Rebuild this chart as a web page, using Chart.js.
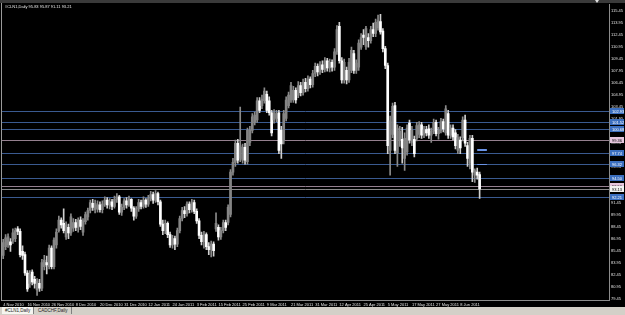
<!DOCTYPE html>
<html><head><meta charset="utf-8">
<script src="https://cdn.jsdelivr.net/npm/chart.js@4.4.1/dist/chart.umd.min.js"></script>
<style>
html,body{margin:0;padding:0;background:#000;overflow:hidden}
#wrap{position:relative;width:625px;height:315px;background:#000}
#top{position:absolute;left:0;top:0;width:625px;height:3px;background:#3a3a3a}
#tri{position:absolute;left:595px;top:0;width:0;height:0;border-left:2px solid transparent;border-right:2px solid transparent;border-top:3px solid #e0e0e0}
#frame{position:absolute;left:1px;top:3px;width:1px;height:298px;background:#9a9a9a}
#c{position:absolute;left:0;top:0}
#title{position:absolute;left:5px;top:4px;font:4px "Liberation Sans Narrow","Liberation Sans",sans-serif;color:#e8e8e8;white-space:nowrap}
#tabs{position:absolute;left:0;top:307px;width:625px;height:8px;background:#d4d0c8;font:4.5px "Liberation Sans Narrow","Liberation Sans",sans-serif;color:#222}
.tab{position:absolute;top:0;height:7px;line-height:7px;padding:0 3px;white-space:nowrap}
#t1{left:2px;background:#f6f5f0;border-right:1px solid #808080}
#t2{left:35px;border-right:1px solid #808080}
</style></head><body>
<div id="wrap">
<canvas id="c" width="625" height="307"></canvas>
<div id="top"></div><div id="tri"></div><div id="frame"></div>
<div id="title">#CLN1,Daily 95.83 95.87 91.11 93.21</div>
<div id="tabs"><div class="tab" id="t1">#CLN1,Daily</div><div class="tab" id="t2">CADCHF,Daily</div></div>
</div>
<script>
const opens = [
84.9,86.0,86.2,86.6,86.8,87.0,88.2,87.9,85.4,85.0,
82.7,81.4,82.8,81.9,80.6,81.4,80.8,83.5,84.0,83.5,
85.8,83.5,86.2,88.0,89.3,88.9,87.2,88.4,87.7,88.3,
89.0,88.4,89.3,87.8,89.1,89.7,90.5,91.4,90.6,90.7,
91.2,90.6,91.3,91.8,91.2,91.6,91.0,91.9,92.2,90.3,
90.9,91.7,91.2,91.9,90.8,89.8,90.7,91.5,91.0,91.8,
91.3,92.0,92.5,91.8,92.6,91.6,88.8,88.0,88.9,87.5,
86.2,87.0,86.3,88.0,89.5,90.5,90.1,91.3,90.6,91.5,
90.4,89.2,87.4,86.6,87.5,86.0,85.6,86.3,88.2,88.4,
87.2,88.0,89.0,89.0,90.0,95.3,96.5,98.9,97.0,96.8,
98.4,96.6,99.0,100.5,101.5,101.8,104.2,103.6,104.2,105.0,
104.2,102.7,101.8,102.0,102.7,100.5,99.2,102.0,103.6,104.3,
104.3,105.5,104.9,106.1,105.2,106.5,105.7,106.9,106.2,107.6,
108.5,107.8,108.7,108.1,109.2,108.3,109.0,108.4,110.3,113.5,
109.2,106.8,108.0,106.8,108.0,110.1,108.0,108.4,110.9,112.4,
111.0,112.1,111.7,113.1,112.6,113.3,114.1,112.9,110.7,108.6,
98.0,100.0,103.6,97.7,99.3,99.4,97.0,97.8,101.4,99.0,
99.4,99.5,100.0,101.2,100.0,100.6,100.7,99.9,100.4,101.5,
100.1,100.5,101.6,100.2,102.6,99.9,100.8,100.2,98.0,99.3,
99.6,101.8,98.6,96.4,99.5,94.9,95.3,95.0];
const highs = [
86.9,87.5,87.6,87.0,88.2,88.3,88.5,88.2,86.1,85.3,
83.0,83.0,83.1,82.3,82.0,81.9,84.4,84.9,84.8,86.2,
86.1,87.1,88.2,89.8,89.6,90.7,89.1,88.8,90.1,89.5,
89.4,89.6,89.7,89.5,90.3,90.8,91.8,91.9,91.8,91.7,
91.6,91.7,92.2,92.1,92.0,91.9,92.3,92.6,92.4,91.3,
92.0,92.1,92.3,92.0,91.0,91.0,91.9,91.8,92.2,92.0,
92.4,92.9,92.8,93.0,92.8,91.8,89.3,89.3,89.1,87.8,
87.4,87.3,88.3,89.8,90.9,91.0,91.6,91.6,91.9,91.8,
90.7,89.5,87.8,87.9,87.7,86.5,86.7,86.6,90.2,88.7,
88.4,89.3,89.3,91.2,95.6,97.0,99.3,99.4,103.4,98.8,
98.9,100.8,101.0,102.6,102.8,104.6,104.6,104.9,105.8,105.4,
104.7,103.0,103.1,103.0,103.0,101.0,103.0,104.7,105.3,106.5,
106.0,105.8,106.6,106.5,106.9,107.0,107.3,107.2,108.0,108.9,
108.8,109.1,109.2,109.6,109.5,109.4,109.3,110.7,113.6,114.0,
109.6,109.4,108.4,109.5,110.9,110.5,109.3,111.8,112.6,113.1,
113.5,112.6,113.5,113.9,114.4,114.9,115.0,113.2,111.0,108.9,
102.3,103.9,104.0,101.2,101.0,100.9,100.2,101.2,101.8,101.0,
99.8,101.5,101.6,101.5,101.0,101.0,101.2,100.8,101.9,101.8,
100.9,102.0,101.9,103.6,103.0,101.2,101.2,100.6,100.0,99.7,
102.2,102.4,99.0,99.9,99.9,95.7,95.8,95.3];
const lows = [
84.5,85.6,85.9,85.4,86.4,86.6,87.5,84.7,84.4,82.4,
80.4,80.9,81.2,80.8,79.9,80.4,80.5,83.1,82.6,83.2,
83.2,83.2,85.8,87.8,88.3,87.7,86.9,87.0,87.4,87.9,
88.0,87.8,88.1,87.4,88.8,89.3,90.2,90.5,90.2,90.3,
90.3,90.2,91.0,90.8,90.7,90.6,90.8,91.5,90.0,89.9,
90.6,90.8,91.0,90.4,89.3,89.5,90.4,90.7,90.8,90.9,
91.0,91.7,91.4,91.5,91.2,88.5,87.5,87.6,87.1,85.9,
85.8,85.6,86.0,87.7,89.2,89.6,89.8,90.2,90.3,90.1,
88.9,87.0,86.2,85.8,85.6,85.0,84.7,84.8,87.9,86.8,
86.9,87.7,88.0,88.7,89.7,94.9,96.0,96.4,96.6,96.4,
96.3,96.3,98.6,100.2,101.2,101.5,102.7,103.2,103.9,102.7,
102.4,99.8,101.4,101.6,97.6,97.0,98.8,101.7,103.3,104.0,
104.0,103.9,104.6,104.8,104.9,105.3,105.4,105.8,105.9,107.2,
107.3,107.5,107.7,107.8,107.9,107.8,107.9,108.0,110.0,108.9,
106.4,106.4,106.3,106.5,107.7,107.6,107.6,108.0,110.6,111.2,
110.6,110.9,111.4,112.2,112.2,113.0,112.5,110.3,108.2,97.6,
94.9,99.6,97.6,96.0,98.5,96.4,95.5,97.4,98.9,98.6,
97.2,99.2,99.6,99.5,99.6,99.8,99.5,99.0,100.1,99.8,
99.4,100.2,100.3,99.9,99.5,99.5,99.3,98.2,97.6,97.6,
99.2,98.5,96.0,95.7,94.1,94.0,94.4,92.0];
const closes = [
86.5,87.1,87.2,86.2,87.7,88.0,87.9,85.0,84.9,82.7,
80.7,82.5,81.6,81.4,81.7,80.8,84.0,84.3,83.7,85.8,
83.5,86.8,87.8,89.3,88.7,88.0,88.7,87.7,89.7,89.0,
88.4,89.3,88.5,89.2,90.0,90.5,91.5,90.9,91.4,91.2,
90.6,91.3,91.8,91.2,91.6,91.0,91.9,92.2,90.3,90.9,
91.7,91.2,91.9,90.8,89.8,90.7,91.5,91.0,91.8,91.3,
92.0,92.5,91.8,92.6,91.6,88.8,88.0,88.9,87.5,86.2,
87.0,86.3,88.0,89.5,90.5,90.1,91.3,90.6,91.5,90.4,
89.2,87.4,86.6,87.5,86.0,85.6,86.3,85.5,88.9,87.2,
88.0,89.0,88.4,90.9,95.3,96.5,98.9,96.8,98.6,98.4,
96.8,100.5,100.5,102.2,102.4,104.2,103.0,104.4,105.4,103.0,
102.7,100.2,102.7,102.6,98.0,98.8,102.6,104.3,104.9,106.1,
105.5,104.3,106.1,105.2,106.5,105.7,106.9,106.2,107.6,108.5,
107.8,108.7,108.1,109.2,108.3,109.0,108.4,110.3,113.1,109.2,
106.8,109.0,106.8,109.0,110.5,108.0,108.9,111.4,112.1,112.1,
113.2,111.7,113.1,112.6,114.0,114.2,112.8,110.7,108.6,98.6,
101.7,103.5,98.0,100.8,100.4,98.3,99.5,100.8,99.3,100.5,
97.6,101.1,101.2,99.9,100.6,100.2,99.9,100.4,101.5,100.1,
100.5,101.6,100.7,103.2,99.9,100.8,99.7,98.6,99.6,98.3,
101.8,98.9,97.0,99.5,95.3,95.5,94.9,93.2];

const slotCount = 251;           // bar slots across the chart incl. right shift
const yTicks = [115.45,113.95,112.45,110.95,109.45,107.95,106.45,104.95,103.45,101.95,100.45,98.95,97.45,95.95,94.45,92.95,91.45,89.95,88.45,86.95,85.45,83.95,82.45,80.95,79.45];
const yMin = 79.33, yMax = 116.23;
const xTickIdx  = [0,10,20,30,40,50,60,70,80,89,99,109,119,129,139,149,159,169,179,189];
const xTickText = ['4 Nov 2010','16 Nov 2010','26 Nov 2010','8 Dec 2010','20 Dec 2010','31 Dec 2010','12 Jan 2011','24 Jan 2011','3 Feb 2011','15 Feb 2011','25 Feb 2011','9 Mar 2011','21 Mar 2011','31 Mar 2011','12 Apr 2011','25 Apr 2011','5 May 2011','17 May 2011','27 May 2011','8 Jun 2011'];
const levels      = [102.93,101.52,100.68,99.36,97.74,96.32,94.50,93.50,93.13,92.21];
const levelKinds  = ['b','b','b','p','b','b','b','p','w','b'];
const markLevels  = [98.03,96.28];
const markFrom = 196, markTo = 200;

const FONT = '"Liberation Sans Narrow","Liberation Sans",sans-serif';
const BULL = '#858585', BEAR = '#ffffff';
const lineCol = {b:'#3a5a90', p:'#95808f', w:'#8a8a8a'};
const boxCol = {b:'#3b6fc0', p:'#e6c6de', w:'#f2f2f2'};
const boxTxt = {b:'#ffffff', p:'#000000', w:'#000000'};

const slots = Array.from({length: slotCount}, (_, i) => i);
const bodies = opens.map((o, i) => [o, closes[i]]);
const wicks = lows.map((l, i) => [l, highs[i]]);
const isBull = opens.map((o, i) => closes[i] >= o);

const levelPlugin = {
  id: 'levels',
  beforeDatasetsDraw(chart) {
    const {ctx, chartArea: {left, right}, scales: {y}} = chart;
    ctx.save();
    ctx.lineWidth = 1;
    levels.forEach((v, i) => {
      const py = Math.round(y.getPixelForValue(v)) + 0.5;
      ctx.strokeStyle = lineCol[levelKinds[i]];
      ctx.beginPath(); ctx.moveTo(left, py); ctx.lineTo(right, py); ctx.stroke();
    });
    ctx.restore();
  },
  afterDraw(chart) {
    const {ctx, chartArea: {right}, scales: {x, y}} = chart;
    ctx.save();
    ctx.strokeStyle = '#6a93e6';
    markLevels.forEach((v, i) => {
      ctx.lineWidth = i === 0 ? 2 : 1;
      const py = Math.round(y.getPixelForValue(v)) + (i === 0 ? 0 : 0.5);
      ctx.beginPath(); ctx.moveTo(x.getPixelForValue(markFrom), py); ctx.lineTo(x.getPixelForValue(markTo), py); ctx.stroke();
    });
    ctx.font = '4px ' + FONT;
    ctx.textBaseline = 'middle';
    levels.forEach((v, i) => {
      const k = levelKinds[i];
      const py = Math.round(y.getPixelForValue(v));
      ctx.fillStyle = boxCol[k];
      ctx.fillRect(right + 1, py - 3, 14, 6);
      ctx.fillStyle = boxTxt[k];
      ctx.fillText(v.toFixed(2), right + 3, py + 0.5);
    });
    ctx.restore();
  }
};

new Chart(document.getElementById('c'), {
  type: 'bar',
  data: {
    labels: slots,
    datasets: [
      {data: wicks, backgroundColor: isBull.map(b => b ? '#8a8a8a' : '#cfcfcf'), barThickness: 1, grouped: false, order: 2},
      {data: bodies, backgroundColor: isBull.map(b => b ? BULL : BEAR), barThickness: 2, grouped: false, order: 1, minBarLength: 1}
    ]
  },
  options: {
    responsive: false, animation: false, devicePixelRatio: 1,
    layout: {padding: {left: 2, top: 4, right: 0, bottom: 0}},
    plugins: {legend: {display: false}, tooltip: {enabled: false}},
    scales: {
      x: {
        type: 'category', offset: true,
        afterBuildTicks: s => { s.ticks = xTickIdx.map(v => ({value: v})); },
        afterFit: s => { s.height = 7; },
        grid: {display: false, drawTicks: false},
        border: {display: true, color: '#8c8c8c'},
        ticks: {color: '#e0e0e0', font: {family: FONT, size: 4}, padding: 2, align: 'start', maxRotation: 0, autoSkip: false,
                callback: (v, i) => xTickText[i]}
      },
      y: {
        position: 'right', min: yMin, max: yMax,
        afterBuildTicks: s => { s.ticks = yTicks.map(v => ({value: v})); },
        afterFit: s => { s.width = 16; },
        grid: {display: false, drawTicks: false},
        border: {display: true, color: '#8c8c8c'},
        ticks: {color: '#e0e0e0', font: {family: FONT, size: 4}, padding: 2, autoSkip: false,
                callback: v => Number(v).toFixed(2)}
      }
    }
  },
  plugins: [levelPlugin]
});
</script>
</body></html>
